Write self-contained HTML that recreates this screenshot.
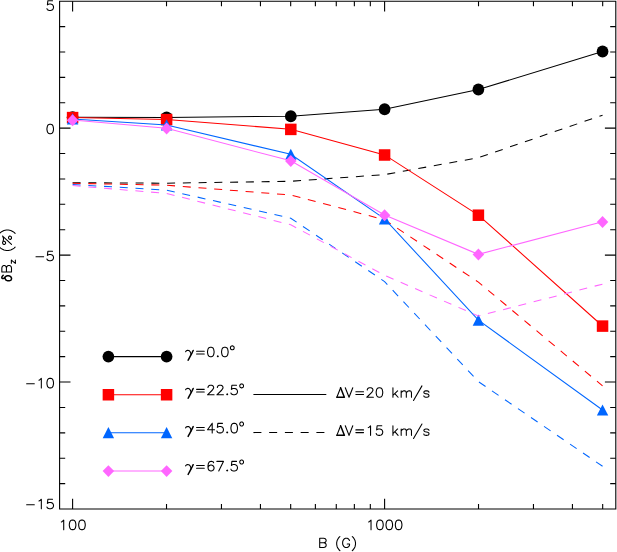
<!DOCTYPE html>
<html lang="en">
<head>
<meta charset="utf-8">
<title>dBz vs B</title>
<style>
html,body{margin:0;padding:0;background:#fff;font-family:"Liberation Sans",sans-serif;}
svg{display:block;}
</style>
</head>
<body>
<svg width="617" height="552" viewBox="0 0 617 552">
<rect x="0" y="0" width="617" height="552" fill="#fff"/>
<g>
<path d="M72.6 117.3 L166.6 117.5 L290.8 116.2 L384.6 109.2 L478.4 89.5 L602.55 51.5" fill="none" stroke="#000000" stroke-width="1.05"/>
<ellipse cx="72.6" cy="117.3" rx="5.85" ry="5.95" fill="#000000"/>
<ellipse cx="166.6" cy="117.5" rx="5.85" ry="5.95" fill="#000000"/>
<ellipse cx="290.8" cy="116.2" rx="5.85" ry="5.95" fill="#000000"/>
<ellipse cx="384.6" cy="109.2" rx="5.85" ry="5.95" fill="#000000"/>
<ellipse cx="478.4" cy="89.5" rx="5.85" ry="5.95" fill="#000000"/>
<ellipse cx="602.55" cy="51.5" rx="5.85" ry="5.95" fill="#000000"/>
<path d="M72.6 182.7 L166.6 183.2 L290.8 181.3 L384.6 174.6 L478.4 157.7 L602.55 115.2" fill="none" stroke="#000000" stroke-width="1.05" stroke-dasharray="8 7.75"/>
<path d="M108.4 356.6 L166.6 356.6" fill="none" stroke="#000000" stroke-width="1.05"/>
<ellipse cx="108.4" cy="356.6" rx="5.85" ry="5.95" fill="#000000"/>
<ellipse cx="166.6" cy="356.6" rx="5.85" ry="5.95" fill="#000000"/>
</g>
<g>
<path d="M72.6 117.5 L166.6 119.5 L290.8 129.3 L384.6 154.9 L478.4 215.1 L602.55 326" fill="none" stroke="#ff0000" stroke-width="1.05"/>
<rect x="66.85" y="111.85" width="11.5" height="11.5" fill="#ff0000"/>
<rect x="160.85" y="113.85" width="11.5" height="11.5" fill="#ff0000"/>
<rect x="285.05" y="123.65" width="11.5" height="11.5" fill="#ff0000"/>
<rect x="378.85" y="149.25" width="11.5" height="11.5" fill="#ff0000"/>
<rect x="472.65" y="209.45" width="11.5" height="11.5" fill="#ff0000"/>
<rect x="596.8" y="320.35" width="11.5" height="11.5" fill="#ff0000"/>
<path d="M72.6 183.3 L166.6 185.2 L290.8 195 L384.6 219.8 L478.4 282.1 L602.55 385.9" fill="none" stroke="#ff0000" stroke-width="1.05" stroke-dasharray="8 7.75"/>
<path d="M108.4 394.65 L166.6 394.65" fill="none" stroke="#ff0000" stroke-width="1.05"/>
<rect x="102.65" y="389" width="11.5" height="11.5" fill="#ff0000"/>
<rect x="160.85" y="389" width="11.5" height="11.5" fill="#ff0000"/>
</g>
<g>
<path d="M72.6 119 L166.6 125 L290.8 154.3 L384.6 218.9 L478.4 320.1 L602.55 410.05" fill="none" stroke="#0066ff" stroke-width="1.05"/>
<path d="M66.9 124.55 L72.6 113.35 L78.3 124.55 Z" fill="#0066ff"/>
<path d="M160.9 130.55 L166.6 119.35 L172.3 130.55 Z" fill="#0066ff"/>
<path d="M285.1 159.85 L290.8 148.65 L296.5 159.85 Z" fill="#0066ff"/>
<path d="M378.9 224.45 L384.6 213.25 L390.3 224.45 Z" fill="#0066ff"/>
<path d="M472.7 325.65 L478.4 314.45 L484.1 325.65 Z" fill="#0066ff"/>
<path d="M596.85 415.6 L602.55 404.4 L608.25 415.6 Z" fill="#0066ff"/>
<path d="M72.6 184.5 L166.6 190.1 L290.8 218.2 L384.6 281.6 L478.4 381.6 L602.55 466.3" fill="none" stroke="#0066ff" stroke-width="1.05" stroke-dasharray="8 7.75"/>
<path d="M108.4 432.7 L166.6 432.7" fill="none" stroke="#0066ff" stroke-width="1.05"/>
<path d="M102.7 438.25 L108.4 427.05 L114.1 438.25 Z" fill="#0066ff"/>
<path d="M160.9 438.25 L166.6 427.05 L172.3 438.25 Z" fill="#0066ff"/>
</g>
<g>
<path d="M72.6 120.1 L166.6 128.3 L290.8 160.8 L384.6 215.05 L478.4 254.35 L602.55 221.8" fill="none" stroke="#ff66ff" stroke-width="1.05"/>
<path d="M66.85 120.3 L72.6 114.35 L78.35 120.3 L72.6 126.25 Z" fill="#ff66ff"/>
<path d="M160.85 128.5 L166.6 122.55 L172.35 128.5 L166.6 134.45 Z" fill="#ff66ff"/>
<path d="M285.05 161 L290.8 155.05 L296.55 161 L290.8 166.95 Z" fill="#ff66ff"/>
<path d="M378.85 215.25 L384.6 209.3 L390.35 215.25 L384.6 221.2 Z" fill="#ff66ff"/>
<path d="M472.65 254.55 L478.4 248.6 L484.15 254.55 L478.4 260.5 Z" fill="#ff66ff"/>
<path d="M596.8 222 L602.55 216.05 L608.3 222 L602.55 227.95 Z" fill="#ff66ff"/>
<path d="M72.6 185.6 L166.6 193.4 L290.8 224.8 L384.6 275.4 L478.4 316 L602.55 284.1" fill="none" stroke="#ff66ff" stroke-width="1.05" stroke-dasharray="8 7.75"/>
<path d="M108.4 470.9 L166.6 470.9" fill="none" stroke="#ff66ff" stroke-width="1.05"/>
<path d="M102.65 471.1 L108.4 465.15 L114.15 471.1 L108.4 477.05 Z" fill="#ff66ff"/>
<path d="M160.85 471.1 L166.6 465.15 L172.35 471.1 L166.6 477.05 Z" fill="#ff66ff"/>
</g>
<path d="M253.4 394.55 L326.3 394.55" fill="none" stroke="#000" stroke-width="1.05"/>
<path d="M253.4 432.55 L326.3 432.55" fill="none" stroke="#000" stroke-width="1.05" stroke-dasharray="8 7.75"/>
<g fill="none" stroke="#000" stroke-width="1.1" stroke-linecap="butt">
<path d="M59.6 1.2 L615.8 1.2 L615.8 509 L59.6 509 Z"/>
<path d="M59.6 483.61 h5.6 M615.8 483.61 h-5.6 M59.6 458.22 h5.6 M615.8 458.22 h-5.6 M59.6 432.83 h5.6 M615.8 432.83 h-5.6 M59.6 407.44 h5.6 M615.8 407.44 h-5.6 M59.6 382.05 h10.9 M615.8 382.05 h-10.9 M59.6 356.66 h5.6 M615.8 356.66 h-5.6 M59.6 331.27 h5.6 M615.8 331.27 h-5.6 M59.6 305.88 h5.6 M615.8 305.88 h-5.6 M59.6 280.49 h5.6 M615.8 280.49 h-5.6 M59.6 255.1 h10.9 M615.8 255.1 h-10.9 M59.6 229.71 h5.6 M615.8 229.71 h-5.6 M59.6 204.32 h5.6 M615.8 204.32 h-5.6 M59.6 178.93 h5.6 M615.8 178.93 h-5.6 M59.6 153.54 h5.6 M615.8 153.54 h-5.6 M59.6 128.15 h10.9 M615.8 128.15 h-10.9 M59.6 102.76 h5.6 M615.8 102.76 h-5.6 M59.6 77.37 h5.6 M615.8 77.37 h-5.6 M59.6 51.98 h5.6 M615.8 51.98 h-5.6 M59.6 26.59 h5.6 M615.8 26.59 h-5.6 M72.6 509 v-10.2 M72.6 1.2 v10.2 M166.52 509 v-5.1 M166.52 1.2 v5.1 M221.46 509 v-5.1 M221.46 1.2 v5.1 M260.44 509 v-5.1 M260.44 1.2 v5.1 M290.68 509 v-5.1 M290.68 1.2 v5.1 M315.38 509 v-5.1 M315.38 1.2 v5.1 M336.27 509 v-5.1 M336.27 1.2 v5.1 M354.36 509 v-5.1 M354.36 1.2 v5.1 M370.32 509 v-5.1 M370.32 1.2 v5.1 M384.6 509 v-10.2 M384.6 1.2 v10.2 M478.52 509 v-5.1 M478.52 1.2 v5.1 M533.46 509 v-5.1 M533.46 1.2 v5.1 M572.44 509 v-5.1 M572.44 1.2 v5.1 M602.68 509 v-5.1 M602.68 1.2 v5.1"/>
</g>
<path d="M52.56 0.68 L47.88 0.68 L47.41 4.91 L47.88 4.44 L49.28 3.97 L50.69 3.97 L52.09 4.44 L53.03 5.38 L53.5 6.79 L53.5 7.73 L53.03 9.14 L52.09 10.08 L50.69 10.55 L49.28 10.55 L47.88 10.08 L47.41 9.61 L46.94 8.67 M49.75 124.19 L48.35 124.65 L47.41 126.02 L46.94 128.29 L46.94 129.66 L47.41 131.93 L48.35 133.29 L49.75 133.75 L50.69 133.75 L52.09 133.29 L53.03 131.93 L53.5 129.66 L53.5 128.29 L53.03 126.02 L52.09 124.65 L50.69 124.19 L49.75 124.19 M35.99 256.7 L43.67 256.7 M52.56 251.25 L47.88 251.25 L47.41 255.34 L47.88 254.89 L49.28 254.43 L50.69 254.43 L52.09 254.89 L53.03 255.8 L53.5 257.16 L53.5 258.07 L53.03 259.44 L52.09 260.35 L50.69 260.8 L49.28 260.8 L47.88 260.35 L47.41 259.89 L46.94 258.98 M26.63 383.81 L34.31 383.81 M38.99 380.17 L39.92 379.71 L41.33 378.35 L41.33 387.9 M49.75 378.35 L48.35 378.8 L47.41 380.17 L46.94 382.44 L46.94 383.81 L47.41 386.08 L48.35 387.45 L49.75 387.9 L50.69 387.9 L52.09 387.45 L53.03 386.08 L53.5 383.81 L53.5 382.44 L53.03 380.17 L52.09 378.8 L50.69 378.35 L49.75 378.35 M26.63 504.7 L34.31 504.7 M38.99 501.06 L39.92 500.61 L41.33 499.25 L41.33 508.8 M52.56 499.25 L47.88 499.25 L47.41 503.34 L47.88 502.88 L49.28 502.43 L50.69 502.43 L52.09 502.88 L53.03 503.8 L53.5 505.16 L53.5 506.07 L53.03 507.44 L52.09 508.35 L50.69 508.8 L49.28 508.8 L47.88 508.35 L47.41 507.89 L46.94 506.98 M61.37 521.91 L62.3 521.46 L63.71 520.1 L63.71 529.65 M72.13 520.1 L70.73 520.55 L69.79 521.91 L69.32 524.19 L69.32 525.55 L69.79 527.83 L70.73 529.19 L72.13 529.65 L73.07 529.65 L74.47 529.19 L75.41 527.83 L75.88 525.55 L75.88 524.19 L75.41 521.91 L74.47 520.55 L73.07 520.1 L72.13 520.1 M81.49 520.1 L80.09 520.55 L79.15 521.91 L78.68 524.19 L78.68 525.55 L79.15 527.83 L80.09 529.19 L81.49 529.65 L82.43 529.65 L83.83 529.19 L84.77 527.83 L85.24 525.55 L85.24 524.19 L84.77 521.91 L83.83 520.55 L82.43 520.1 L81.49 520.1 M368.69 521.91 L369.62 521.46 L371.03 520.1 L371.03 529.65 M379.45 520.1 L378.05 520.55 L377.11 521.91 L376.64 524.19 L376.64 525.55 L377.11 527.83 L378.05 529.19 L379.45 529.65 L380.39 529.65 L381.79 529.19 L382.73 527.83 L383.2 525.55 L383.2 524.19 L382.73 521.91 L381.79 520.55 L380.39 520.1 L379.45 520.1 M388.81 520.1 L387.41 520.55 L386.47 521.91 L386 524.19 L386 525.55 L386.47 527.83 L387.41 529.19 L388.81 529.65 L389.75 529.65 L391.15 529.19 L392.09 527.83 L392.56 525.55 L392.56 524.19 L392.09 521.91 L391.15 520.55 L389.75 520.1 L388.81 520.1 M398.17 520.1 L396.77 520.55 L395.83 521.91 L395.36 524.19 L395.36 525.55 L395.83 527.83 L396.77 529.19 L398.17 529.65 L399.11 529.65 L400.51 529.19 L401.45 527.83 L401.92 525.55 L401.92 524.19 L401.45 521.91 L400.51 520.55 L399.11 520.1 L398.17 520.1 M319.7 538.31 L319.7 547.55 M319.7 538.31 L323.83 538.31 L325.21 538.75 L325.67 539.19 L326.12 540.07 L326.12 540.95 L325.67 541.83 L325.21 542.27 L323.83 542.71 M319.7 542.71 L323.83 542.71 L325.21 543.15 L325.67 543.59 L326.12 544.47 L326.12 545.79 L325.67 546.67 L325.21 547.11 L323.83 547.55 L319.7 547.55 M339.89 536.55 L338.98 537.43 L338.06 538.75 L337.14 540.51 L336.68 542.71 L336.68 544.47 L337.14 546.67 L338.06 548.43 L338.98 549.75 L339.89 550.63 M349.53 540.51 L349.07 539.63 L348.16 538.75 L347.24 538.31 L345.4 538.31 L344.48 538.75 L343.57 539.63 L343.11 540.51 L342.65 541.83 L342.65 544.03 L343.11 545.35 L343.57 546.23 L344.48 547.11 L345.4 547.55 L347.24 547.55 L348.16 547.11 L349.07 546.23 L349.53 545.35 L349.53 544.03 M347.24 544.03 L349.53 544.03 M352.29 536.55 L353.21 537.43 L354.12 538.75 L355.04 540.51 L355.5 542.71 L355.5 544.47 L355.04 546.67 L354.12 548.43 L353.21 549.75 L352.29 550.63 M1.84 272.05 L11.5 272.05 M1.84 272.05 L1.84 267.88 L2.3 266.49 L2.76 266.03 L3.68 265.57 L4.6 265.57 L5.52 266.03 L5.98 266.49 L6.44 267.88 M6.44 272.05 L6.44 267.88 L6.9 266.49 L7.36 266.03 L8.28 265.57 L9.66 265.57 L10.58 266.03 L11.04 266.49 L11.5 267.88 L11.5 272.05 M11.37 260.16 L15.36 263.32 M11.37 263.32 L11.37 260.16 M15.36 263.32 L15.36 260.16 M-0.37 247.14 L0.6 248.12 L2.05 249.09 L3.98 250.06 L6.39 250.55 L8.33 250.55 L10.74 250.06 L12.67 249.09 L14.12 248.12 L15.09 247.14 M2.61 236.1 L11.5 244.44 M2.61 242.12 L3.46 241.19 L4.31 241.19 L5.15 241.66 L5.58 242.58 L5.58 243.51 L4.73 244.44 L3.88 244.44 L3.04 243.97 L2.61 243.05 L2.61 242.12 L3.04 241.19 L3.46 239.81 L3.46 238.42 L3.04 237.03 L2.61 236.1 M8.54 237.95 L8.96 238.88 L9.81 239.34 L10.65 239.34 L11.5 238.42 L11.5 237.49 L11.08 236.56 L10.23 236.1 L9.38 236.1 L8.54 237.03 L8.54 237.95 M-0.37 233.39 L0.6 232.42 L2.05 231.45 L3.98 230.48 L6.39 229.99 L8.33 229.99 L10.74 230.48 L12.67 231.45 L14.12 232.42 L15.09 233.39 M185.63 351.7 L186 351.11 L186.61 350.61 L187.78 350.33 L188.81 350.47 L189.56 351.02 L190.26 351.93 L190.68 352.88 L190.92 353.79 L191.06 354.75 M196.58 351.29 L204.26 351.29 M196.58 354.02 L204.26 354.02 M210.34 347.19 L208.94 347.65 L208 349.01 L207.53 351.29 L207.53 352.65 L208 354.93 L208.94 356.3 L210.34 356.75 L211.28 356.75 L212.68 356.3 L213.62 354.93 L214.08 352.65 L214.08 351.29 L213.62 349.01 L212.68 347.65 L211.28 347.19 L210.34 347.19 M217.83 355.84 L217.36 356.3 L217.83 356.75 L218.3 356.3 L217.83 355.84 M224.38 347.19 L222.98 347.65 L222.04 349.01 L221.57 351.29 L221.57 352.65 L222.04 354.93 L222.98 356.3 L224.38 356.75 L225.32 356.75 L226.72 356.3 L227.66 354.93 L228.12 352.65 L228.12 351.29 L227.66 349.01 L226.72 347.65 L225.32 347.19 L224.38 347.19 M231.85 345.88 L231.27 346.17 L230.69 346.73 L230.4 347.58 L230.4 348.14 L230.69 348.99 L231.27 349.55 L231.85 349.83 L232.72 349.83 L233.3 349.55 L233.88 348.99 L234.17 348.14 L234.17 347.58 L233.88 346.73 L233.3 346.17 L232.72 345.88 L231.85 345.88 M185.63 389.75 L186 389.16 L186.61 388.66 L187.78 388.38 L188.81 388.52 L189.56 389.07 L190.26 389.98 L190.68 390.93 L190.92 391.84 L191.06 392.8 M196.58 389.34 L204.26 389.34 M196.58 392.07 L204.26 392.07 M208 387.52 L208 387.06 L208.47 386.16 L208.94 385.7 L209.87 385.25 L211.74 385.25 L212.68 385.7 L213.15 386.16 L213.62 387.06 L213.62 387.98 L213.15 388.88 L212.21 390.25 L207.53 394.8 L214.08 394.8 M217.36 387.52 L217.36 387.06 L217.83 386.16 L218.3 385.7 L219.23 385.25 L221.1 385.25 L222.04 385.7 L222.51 386.16 L222.98 387.06 L222.98 387.98 L222.51 388.88 L221.57 390.25 L216.89 394.8 L223.44 394.8 M227.19 393.89 L226.72 394.35 L227.19 394.8 L227.66 394.35 L227.19 393.89 M236.55 385.25 L231.87 385.25 L231.4 389.34 L231.87 388.88 L233.27 388.43 L234.68 388.43 L236.08 388.88 L237.02 389.8 L237.48 391.16 L237.48 392.07 L237.02 393.44 L236.08 394.35 L234.68 394.8 L233.27 394.8 L231.87 394.35 L231.4 393.89 L230.93 392.98 M241.21 383.93 L240.63 384.22 L240.05 384.78 L239.76 385.63 L239.76 386.19 L240.05 387.04 L240.63 387.6 L241.21 387.88 L242.08 387.88 L242.66 387.6 L243.24 387.04 L243.53 386.19 L243.53 385.63 L243.24 384.78 L242.66 384.22 L242.08 383.93 L241.21 383.93 M185.63 427.85 L186 427.26 L186.61 426.76 L187.78 426.48 L188.81 426.62 L189.56 427.17 L190.26 428.08 L190.68 429.03 L190.92 429.94 L191.06 430.9 M196.58 427.44 L204.26 427.44 M196.58 430.17 L204.26 430.17 M212.21 423.34 L207.53 429.71 L214.55 429.71 M212.21 423.34 L212.21 432.9 M222.51 423.34 L217.83 423.34 L217.36 427.44 L217.83 426.98 L219.23 426.53 L220.64 426.53 L222.04 426.98 L222.98 427.89 L223.44 429.26 L223.44 430.17 L222.98 431.53 L222.04 432.44 L220.64 432.9 L219.23 432.9 L217.83 432.44 L217.36 431.99 L216.89 431.08 M227.19 431.99 L226.72 432.44 L227.19 432.9 L227.66 432.44 L227.19 431.99 M233.74 423.34 L232.34 423.8 L231.4 425.16 L230.93 427.44 L230.93 428.8 L231.4 431.08 L232.34 432.44 L233.74 432.9 L234.68 432.9 L236.08 432.44 L237.02 431.08 L237.48 428.8 L237.48 427.44 L237.02 425.16 L236.08 423.8 L234.68 423.34 L233.74 423.34 M241.21 422.03 L240.63 422.32 L240.05 422.88 L239.76 423.73 L239.76 424.29 L240.05 425.14 L240.63 425.7 L241.21 425.98 L242.08 425.98 L242.66 425.7 L243.24 425.14 L243.53 424.29 L243.53 423.73 L243.24 422.88 L242.66 422.32 L242.08 422.03 L241.21 422.03 M185.63 465.9 L186 465.31 L186.61 464.81 L187.78 464.53 L188.81 464.67 L189.56 465.22 L190.26 466.13 L190.68 467.08 L190.92 467.99 L191.06 468.95 M196.58 465.49 L204.26 465.49 M196.58 468.22 L204.26 468.22 M213.62 462.76 L213.15 461.85 L211.74 461.39 L210.81 461.39 L209.4 461.85 L208.47 463.21 L208 465.49 L208 467.76 L208.47 469.58 L209.4 470.5 L210.81 470.95 L211.28 470.95 L212.68 470.5 L213.62 469.58 L214.08 468.22 L214.08 467.76 L213.62 466.4 L212.68 465.49 L211.28 465.03 L210.81 465.03 L209.4 465.49 L208.47 466.4 L208 467.76 M223.44 461.39 L218.76 470.95 M216.89 461.39 L223.44 461.39 M227.19 470.04 L226.72 470.5 L227.19 470.95 L227.66 470.5 L227.19 470.04 M236.55 461.39 L231.87 461.39 L231.4 465.49 L231.87 465.03 L233.27 464.58 L234.68 464.58 L236.08 465.03 L237.02 465.94 L237.48 467.31 L237.48 468.22 L237.02 469.58 L236.08 470.5 L234.68 470.95 L233.27 470.95 L231.87 470.5 L231.4 470.04 L230.93 469.13 M241.21 460.08 L240.63 460.37 L240.05 460.93 L239.76 461.78 L239.76 462.34 L240.05 463.19 L240.63 463.75 L241.21 464.03 L242.08 464.03 L242.66 463.75 L243.24 463.19 L243.53 462.34 L243.53 461.78 L243.24 460.93 L242.66 460.37 L242.08 460.08 L241.21 460.08 M340.61 387.69 L336.87 397.25 M345.29 387.69 L349.04 397.25 M352.78 387.69 L349.04 397.25 M355.87 391.79 L363.54 391.79 M355.87 394.52 L363.54 394.52 M367.29 389.97 L367.29 389.51 L367.76 388.61 L368.22 388.15 L369.16 387.69 L371.03 387.69 L371.97 388.15 L372.44 388.61 L372.9 389.51 L372.9 390.43 L372.44 391.33 L371.5 392.7 L366.82 397.25 L373.37 397.25 M378.99 387.69 L377.58 388.15 L376.65 389.51 L376.18 391.79 L376.18 393.15 L376.65 395.43 L377.58 396.8 L378.99 397.25 L379.92 397.25 L381.33 396.8 L382.26 395.43 L382.73 393.15 L382.73 391.79 L382.26 389.51 L381.33 388.15 L379.92 387.69 L378.99 387.69 M392.93 387.69 L392.93 397.25 M397.61 390.88 L392.93 395.43 M394.81 393.61 L398.08 397.25 M401.17 390.88 L401.17 397.25 M401.17 392.7 L402.58 391.33 L403.51 390.88 L404.92 390.88 L405.85 391.33 L406.32 392.7 L406.32 397.25 M406.32 392.7 L407.72 391.33 L408.66 390.88 L410.06 390.88 L411 391.33 L411.47 392.7 L411.47 397.25 M421.95 385.88 L413.53 400.44 M428.97 392.25 L428.5 391.33 L427.1 390.88 L425.69 390.88 L424.29 391.33 L423.82 392.25 L424.29 393.15 L425.23 393.61 L427.57 394.06 L428.5 394.52 L428.97 395.43 L428.97 395.88 L428.5 396.8 L427.1 397.25 L425.69 397.25 L424.29 396.8 L423.82 395.88 M340.61 425.8 L336.87 435.35 M345.29 425.8 L349.04 435.35 M352.78 425.8 L349.04 435.35 M355.87 429.89 L363.54 429.89 M355.87 432.62 L363.54 432.62 M368.22 427.62 L369.16 427.16 L370.56 425.8 L370.56 435.35 M381.8 425.8 L377.12 425.8 L376.65 429.89 L377.12 429.44 L378.52 428.98 L379.92 428.98 L381.33 429.44 L382.26 430.35 L382.73 431.71 L382.73 432.62 L382.26 433.99 L381.33 434.9 L379.92 435.35 L378.52 435.35 L377.12 434.9 L376.65 434.44 L376.18 433.53 M392.93 425.8 L392.93 435.35 M397.61 428.98 L392.93 433.53 M394.81 431.71 L398.08 435.35 M401.17 428.98 L401.17 435.35 M401.17 430.8 L402.58 429.44 L403.51 428.98 L404.92 428.98 L405.85 429.44 L406.32 430.8 L406.32 435.35 M406.32 430.8 L407.72 429.44 L408.66 428.98 L410.06 428.98 L411 429.44 L411.47 430.8 L411.47 435.35 M421.95 423.98 L413.53 438.54 M428.97 430.35 L428.5 429.44 L427.1 428.98 L425.69 428.98 L424.29 429.44 L423.82 430.35 L424.29 431.25 L425.23 431.71 L427.57 432.17 L428.5 432.62 L428.97 433.53 L428.97 433.99 L428.5 434.9 L427.1 435.35 L425.69 435.35 L424.29 434.9 L423.82 433.99" fill="none" stroke="#000" stroke-width="1.08" stroke-linecap="round" stroke-linejoin="round"/>
<path d="M5.06 277.14 L5.06 278.53 L5.52 279.46 L6.44 280.38 L7.82 280.85 L9.2 280.85 L10.58 280.38 L11.04 279.92 L11.5 278.99 L11.5 278.07 L11.04 277.14 L10.12 276.22 L8.74 275.75 L7.36 275.75 L5.98 276.22 L5.06 277.14 L4.14 278.07 L3.22 278.53 L2.3 278.53 L1.84 278.07 L1.84 277.14 L2.3 276.22 L3.22 275.29 M193.16 350.47 L192.32 352.29 L190.96 354.93 L189.51 357.66 L188.62 359.3 L188.16 360.21 M193.16 388.52 L192.32 390.34 L190.96 392.98 L189.51 395.71 L188.62 397.35 L188.16 398.26 M193.16 426.62 L192.32 428.44 L190.96 431.08 L189.51 433.81 L188.62 435.45 L188.16 436.36 M193.16 464.67 L192.32 466.49 L190.96 469.13 L189.51 471.86 L188.62 473.5 L188.16 474.41 M340.61 387.69 L344.36 397.25 L336.87 397.25 M340.61 425.8 L344.36 435.35 L336.87 435.35" fill="none" stroke="#000" stroke-width="1.5" stroke-linecap="round" stroke-linejoin="round"/>
</svg>
</body>
</html>
